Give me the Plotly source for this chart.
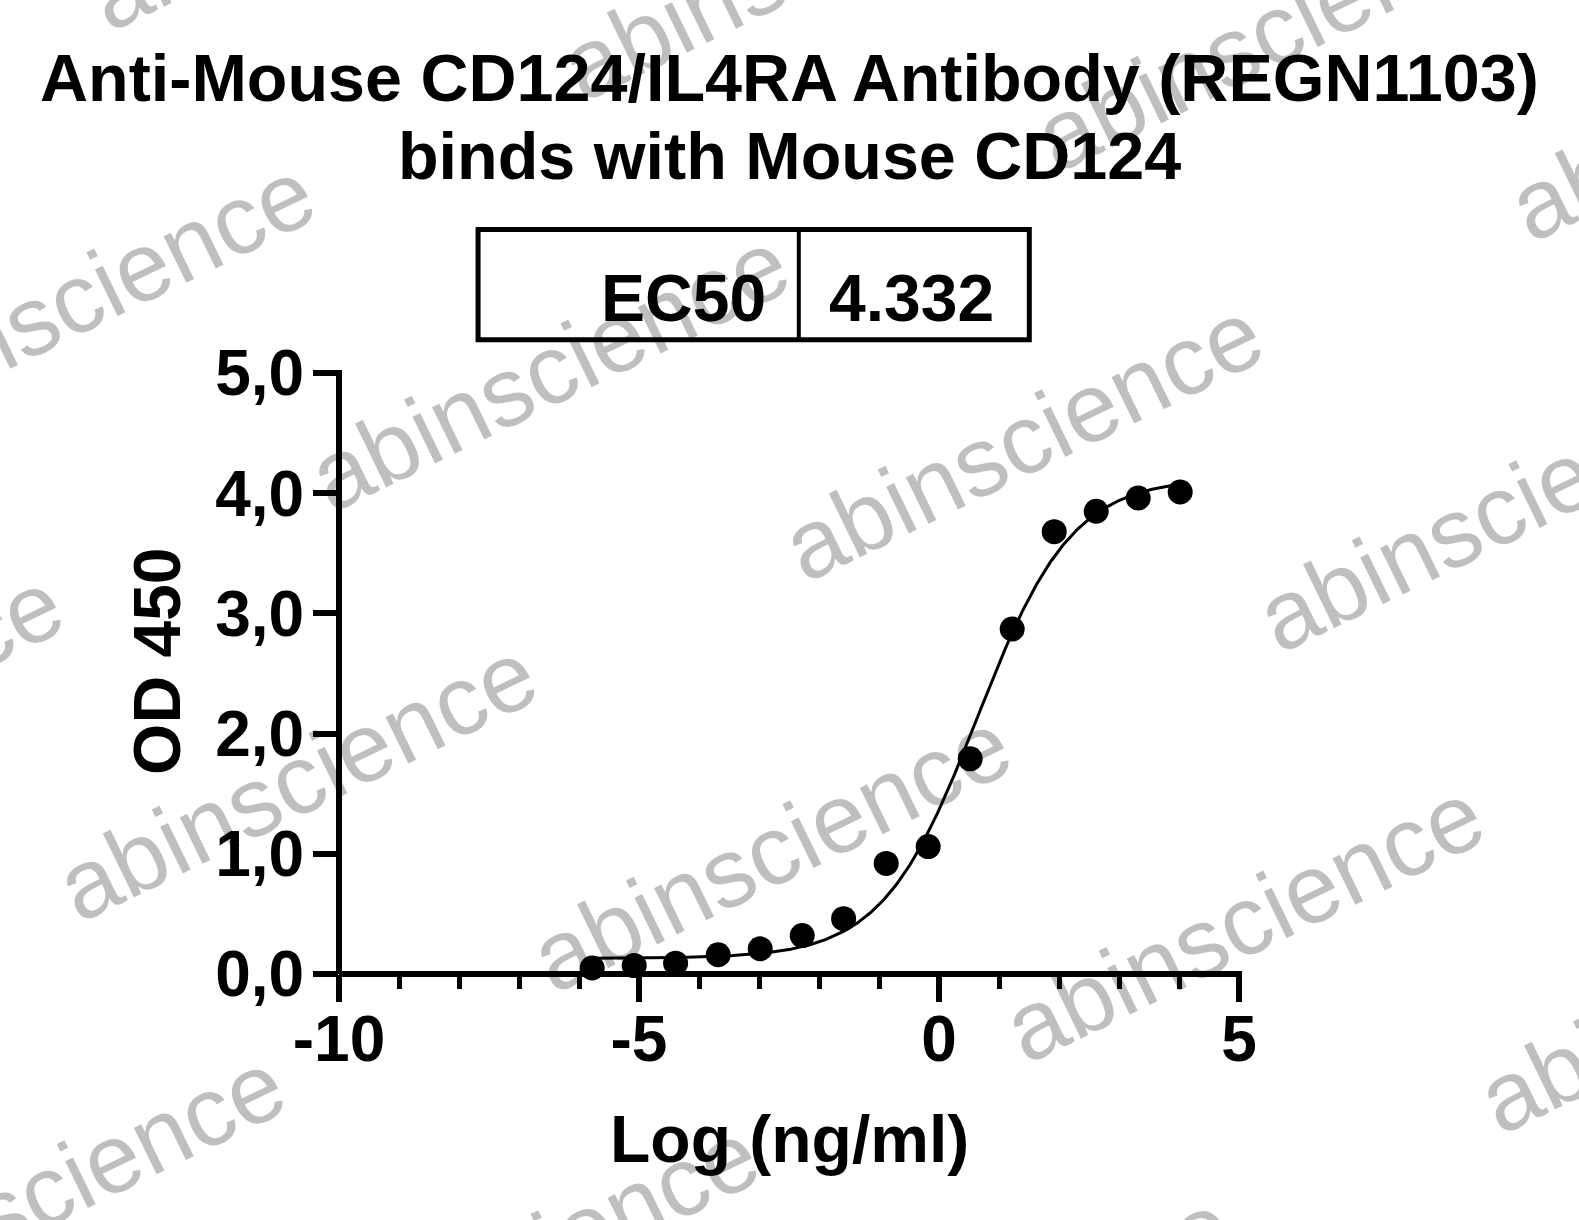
import numpy as np
import plotly.graph_objects as go

# ---------------- data ----------------
title_lines = ["Anti-Mouse CD124/IL4RA Antibody (REGN1103)", "binds with Mouse CD124"]
x_label = "Log (ng/ml)"
y_label = "OD 450"

log_conc = [-5.78, -5.08, -4.39, -3.68, -2.98, -2.28, -1.59, -0.88, -0.18,
            0.52, 1.22, 1.92, 2.62, 3.32, 4.02]
od450 = [0.05, 0.07, 0.09, 0.16, 0.21, 0.32, 0.46, 0.92, 1.06,
         1.79, 2.87, 3.68, 3.85, 3.96, 4.01]

# 4PL fit parameters (EC50 from the table in the chart)
fit_bottom = 0.13
fit_top = 4.13
ec50 = 4.332
hill = 0.55

table_label = "EC50"
table_value = "4.332"

x_tickvals = [-10, -5, 0, 5]
x_ticktext = ["-10", "-5", "0", "5"]
y_tickvals = [0, 1, 2, 3, 4, 5]
y_ticktext = ["0,0", "1,0", "2,0", "3,0", "4,0", "5,0"]

watermark = "abinscience"

# ---------------- layout geometry (pixels) ----------------
W, H = 1579, 1220
PL, PR, PT, PB = 339.0, 1238.6, 373.3, 973.7
FONT = "Liberation Sans, Arial, Helvetica, sans-serif"


def px(x):
    return (x - PL) / (PR - PL)


def py(y):
    return (PB - y) / (PB - PT)


# fitted curve
log_ec50 = np.log10(ec50)
xc = np.linspace(min(log_conc) - 0.05, max(log_conc), 400)
yc = fit_bottom + (fit_top - fit_bottom) / (1 + 10 ** ((log_ec50 - xc) * hill))

fig = go.Figure()
fig.add_trace(go.Scatter(x=xc, y=yc, mode="lines",
                         line=dict(color="black", width=3),
                         cliponaxis=False, hoverinfo="skip", showlegend=False))
fig.add_trace(go.Scatter(x=log_conc, y=od450, mode="markers",
                         marker=dict(color="black", size=25),
                         cliponaxis=False, showlegend=False))

annotations = []
# title
annotations.append(dict(text="<b>%s</b>" % title_lines[0], x=0.5, y=py(79),
                        xref="paper", yref="paper", showarrow=False,
                        xanchor="center", yanchor="middle",
                        font=dict(size=66.5, family=FONT, color="black")))
annotations.append(dict(text="<b>%s</b>" % title_lines[1], x=0.5, y=py(157),
                        xref="paper", yref="paper", showarrow=False,
                        xanchor="center", yanchor="middle",
                        font=dict(size=66.5, family=FONT, color="black")))
# axis titles
annotations.append(dict(text="<b>%s</b>" % x_label, x=0.5, y=py(1139),
                        xref="paper", yref="paper", showarrow=False,
                        xanchor="center", yanchor="middle",
                        font=dict(size=66, family=FONT, color="black")))
annotations.append(dict(text="<b>%s</b>" % y_label, x=px(157), y=py(661),
                        xref="paper", yref="paper", showarrow=False,
                        xanchor="center", yanchor="middle", textangle=-90,
                        font=dict(size=66, family=FONT, color="black")))
# EC50 table text
annotations.append(dict(text="<b>%s</b>" % table_label, x=px(768), y=py(298),
                        xref="paper", yref="paper", showarrow=False,
                        xanchor="right", yanchor="middle",
                        font=dict(size=66, family=FONT, color="black")))
annotations.append(dict(text="<b>%s</b>" % table_value, x=px(911), y=py(298),
                        xref="paper", yref="paper", showarrow=False,
                        xanchor="center", yanchor="middle",
                        font=dict(size=66, family=FONT, color="black")))

# watermarks
ox, oy = 549.0, 370.0
ux, uy = 473.5, 70.5
vx, vy = -252.0, 410.0
for j in range(-2, 3):
    for i in range(-3, 4):
        cx = ox + i * ux + j * vx
        cy = oy + i * uy + j * vy
        if -300 < cx < W + 300 and -180 < cy < H + 180:
            annotations.append(dict(text=watermark, x=px(cx), y=py(cy),
                                    xref="paper", yref="paper", showarrow=False,
                                    xanchor="center", yanchor="middle",
                                    textangle=-26,
                                    font=dict(size=98, family=FONT,
                                              color="rgba(0,0,0,0.25)")))

shapes = []
# EC50 table box
bx0, bx1, bdiv, by0, by1 = 478, 1029, 798.6, 230, 340
shapes.append(dict(type="rect", xref="paper", yref="paper",
                   x0=px(bx0), x1=px(bx1), y0=py(by1), y1=py(by0),
                   line=dict(color="black", width=5)))
shapes.append(dict(type="line", xref="paper", yref="paper",
                   x0=px(bdiv), x1=px(bdiv), y0=py(by1), y1=py(by0),
                   line=dict(color="black", width=4)))
# axis lines, centred on the plot edges
shapes.append(dict(type="line", xref="paper", yref="paper",
                   x0=0, x1=0, y0=0, y1=py(PT - 3),
                   line=dict(color="black", width=6)))
shapes.append(dict(type="line", xref="paper", yref="paper",
                   x0=0, x1=px(PR + 3), y0=0, y1=0,
                   line=dict(color="black", width=6)))

tickfont = dict(size=64, family=FONT, color="black", weight="bold")
fig.update_layout(
    width=W, height=H,
    margin=dict(l=PL, r=W - PR, t=PT, b=H - PB, pad=0),
    paper_bgcolor="white", plot_bgcolor="white",
    annotations=annotations, shapes=shapes,
    xaxis=dict(range=[-10, 5], tickvals=x_tickvals, ticktext=x_ticktext,
               ticks="outside", ticklen=27, tickwidth=6, tickcolor="black",
               showline=False, showgrid=False, zeroline=False,
               tickfont=tickfont, ticklabelstandoff=-18,
               minor=dict(dtick=1, ticks="outside", ticklen=14, tickwidth=5,
                          tickcolor="black", showgrid=False)),
    yaxis=dict(range=[0, 5], tickvals=y_tickvals, ticktext=y_ticktext,
               ticks="outside", ticklen=25, tickwidth=6, tickcolor="black",
               showline=False, showgrid=False, zeroline=False,
               tickfont=tickfont, ticklabelstandoff=-4),
)

fig.write_html("out.html", config={"displayModeBar": False},
               post_script="document.body.style.margin='0';")
